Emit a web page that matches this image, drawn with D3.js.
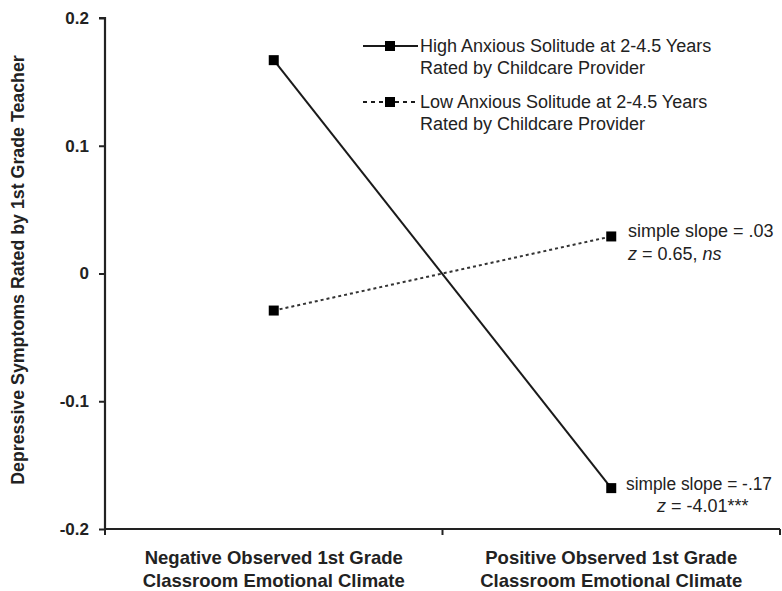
<!DOCTYPE html>
<html><head><meta charset="utf-8">
<script src="https://cdn.jsdelivr.net/npm/d3@7"></script>
<style>body{margin:0;background:#fff;} text{font-family:"Liberation Sans",Arial,sans-serif;fill:#222;}</style>
</head><body>
<svg id="c" width="782" height="591"></svg>
<script>
const categories = ["Negative Observed 1st Grade|Classroom Emotional Climate", "Positive Observed 1st Grade|Classroom Emotional Climate"];
const seriesNames = ["High Anxious Solitude at 2-4.5 Years|Rated by Childcare Provider", "Low Anxious Solitude at 2-4.5 Years|Rated by Childcare Provider"];
const highValues = [0.167, -0.168];
const lowValues = [-0.029, 0.029];
const yTicks = [0.2, 0.1, 0, -0.1, -0.2];
const yTickLabels = ["0.2", "0.1", "0", "-0.1", "-0.2"];
const yTitle = "Depressive Symptoms Rated by 1st Grade Teacher";
const lowNote = ["simple slope = .03", "z", " = 0.65, ", "ns"];
const highNote = ["simple slope = -.17", "z", " = -4.01***"];

(function(){
const svg = d3.select("#c");
const mLeft = 105, mRight = 780, mTop = 18, mBottom = 529;
const fs = 18;
const x = d3.scaleBand().domain(categories).range([mLeft, mRight]);
const y = d3.scaleLinear().domain([-0.2, 0.2]).range([mBottom, mTop]);

// y axis
const ya = svg.append("g").attr("transform", `translate(${mLeft},0)`)
  .call(d3.axisLeft(y).tickValues(yTicks).tickSize(6).tickFormat((d,i)=>yTickLabels[i]));
ya.select(".domain").attr("stroke","#222").attr("stroke-width",2.2).attr("d",`M-6,${mTop}H0V${mBottom}`);
ya.selectAll(".tick line").attr("stroke","#222").attr("stroke-width",2);
ya.selectAll(".tick text").attr("x",-16).attr("font-size",17).attr("font-weight","bold").attr("fill","#333").attr("font-family","Liberation Sans, Arial, sans-serif");

// x axis
const xa = svg.append("g").attr("transform", `translate(0,${mBottom})`);
xa.append("line").attr("x1",mLeft).attr("x2",mRight).attr("stroke","#222").attr("stroke-width",2.2);
const boundaries = [mLeft, x(categories[1]), mRight];
xa.selectAll("line.t").data(boundaries).enter().append("line").attr("class","t")
  .attr("x1",d=>d).attr("x2",d=>d).attr("y1",0).attr("y2",6).attr("stroke","#222").attr("stroke-width",2);
categories.forEach(c=>{
  const parts = c.split("|");
  const t = svg.append("text").attr("text-anchor","middle").attr("font-size",18.5).attr("font-weight","bold");
  parts.forEach((p,i)=>t.append("tspan").attr("x",x(c)+x.bandwidth()/2).attr("y",564+i*23).text(p));
});

// y title
svg.append("text").attr("transform",`translate(24,270) rotate(-90)`)
  .attr("text-anchor","middle").attr("font-size",17.8).attr("font-weight","bold").text(yTitle);

const cx = c => x(c) + x.bandwidth()/2;
const line = d3.line().x((d,i)=>cx(categories[i])).y(d=>y(d));

svg.append("path").datum(highValues).attr("d",line).attr("fill","none").attr("stroke","#1a1a1a").attr("stroke-width",2);
svg.append("path").datum(lowValues).attr("d",line).attr("fill","none").attr("stroke","#333").attr("stroke-width",2).attr("stroke-dasharray","3,3");

[highValues, lowValues].forEach(vals=>{
  svg.selectAll(null).data(vals).enter().append("rect")
    .attr("x",(d,i)=>cx(categories[i])-5).attr("y",d=>y(d)-5).attr("width",10).attr("height",10).attr("fill","#000");
});

// legend
const legY = [46, 102];
seriesNames.forEach((s,i)=>{
  const g = svg.append("g");
  g.append("line").attr("x1",363).attr("x2",418).attr("y1",legY[i]).attr("y2",legY[i])
    .attr("stroke","#1a1a1a").attr("stroke-width",2).attr("stroke-dasharray", i===1 ? "4,4" : null);
  g.append("rect").attr("x",385).attr("y",legY[i]-5).attr("width",10).attr("height",10).attr("fill","#000");
  const parts = s.split("|");
  const t = g.append("text").attr("font-size",fs);
  parts.forEach((p,j)=>t.append("tspan").attr("x",420).attr("y",legY[i]+6+j*22).text(p));
});

// annotations
const a1 = svg.append("text").attr("font-size",fs);
a1.append("tspan").attr("x",628).attr("y",y(lowValues[1])+1).text(lowNote[0]);
a1.append("tspan").attr("x",628).attr("y",y(lowValues[1])+24).attr("font-style","italic").text(lowNote[1]);
a1.append("tspan").text(lowNote[2]);
a1.append("tspan").attr("font-style","italic").text(lowNote[3]);

const a2 = svg.append("text").attr("font-size",fs);
a2.append("tspan").attr("x",626).attr("y",y(highValues[1])+2).attr("textLength",146).attr("lengthAdjust","spacingAndGlyphs").text(highNote[0]);
a2.append("tspan").attr("x",657).attr("y",y(highValues[1])+24).attr("font-style","italic").text(highNote[1]);
a2.append("tspan").text(highNote[2]);
})();
</script>
</body></html>
